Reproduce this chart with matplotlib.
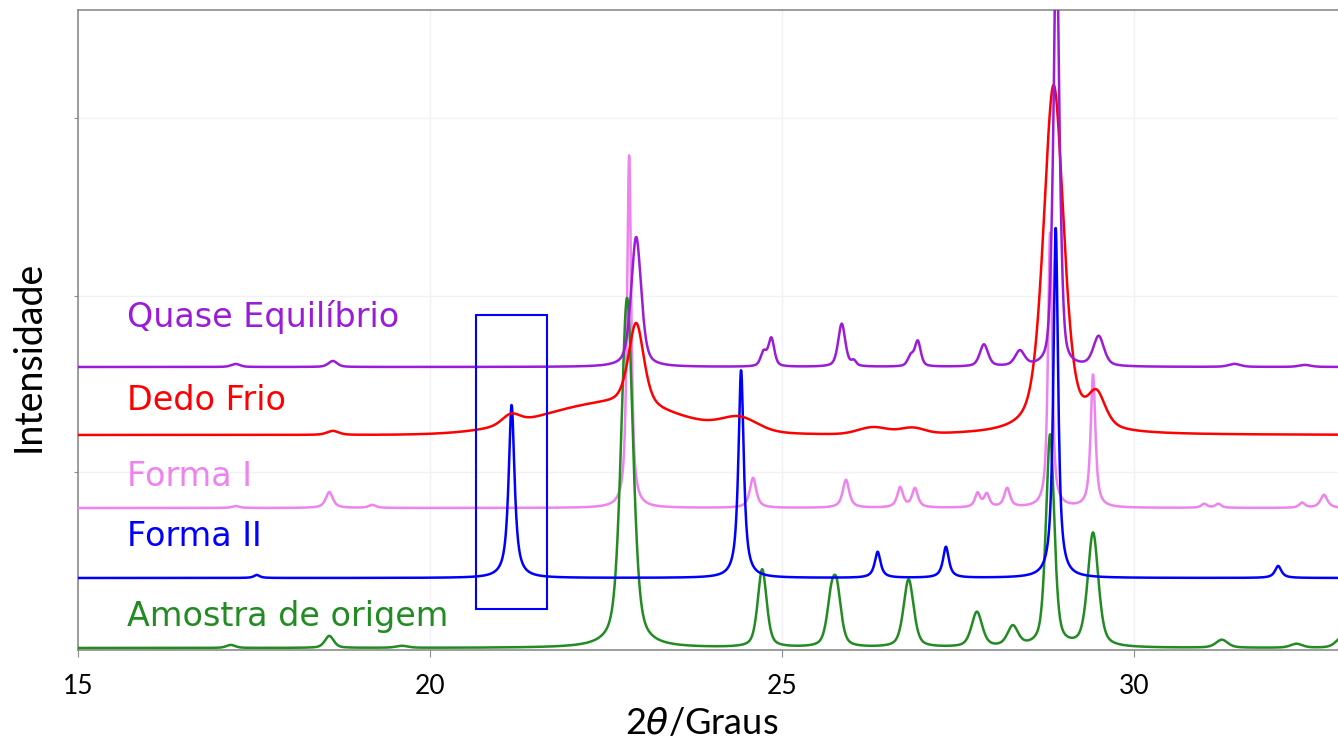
import numpy as np
import matplotlib.pyplot as plt
from matplotlib.patches import Rectangle

# ─────────────────────────────────────────────
# Picos (2θ, altura, largura a meia altura, fração lorentziana)
# alturas em unidades arbitrárias, acima da linha de base de cada difratograma
# ─────────────────────────────────────────────
quase_base = 283
quase_pos = [17.24, 18.62, 22.93, 24.74, 24.85, 25.85, 26.02, 26.83, 26.93, 27.87, 28.38, 28.84, 28.90, 28.96, 29.50, 31.43, 32.43]
quase_alt = [3, 6, 130, 14, 28, 43, 5, 10, 25, 22, 15, 60, 420, 60, 30, 3, 2]
quase_larg = [0.15, 0.15, 0.17, 0.10, 0.10, 0.12, 0.08, 0.10, 0.10, 0.14, 0.16, 0.08, 0.08, 0.08, 0.18, 0.20, 0.20]
quase_eta = [0.5] * len(quase_pos)

frio_base = 215
frio_pos = [18.62, 21.15, 22.55, 22.93, 24.40, 26.30, 26.85, 28.86, 29.47]
frio_alt = [4, 10, 31, 83, 13, 7, 6, 349, 33]
frio_larg = [0.20, 0.30, 2.30, 0.26, 0.60, 0.50, 0.40, 0.34, 0.30]
frio_eta = [0.5, 0.3, 0.0, 0.5, 0.2, 0.0, 0.0, 0.5, 0.5]

forma1_base = 142
forma1_pos = [17.24, 18.57, 19.18, 22.83, 24.59, 25.91, 26.68, 26.89, 27.78, 27.91, 28.20, 28.81, 29.42, 31.00, 31.20, 32.39, 32.70]
forma1_alt = [2, 16, 3, 353, 30, 28, 20, 19, 14, 13, 19, 275, 133, 4, 4, 5, 13]
forma1_larg = [0.12, 0.12, 0.12, 0.07, 0.11, 0.11, 0.10, 0.10, 0.09, 0.09, 0.10, 0.07, 0.08, 0.10, 0.10, 0.10, 0.12]
forma1_eta = [0.8] * len(forma1_pos)

forma2_base = 72
forma2_pos = [17.54, 21.16, 24.42, 26.36, 27.33, 28.89, 32.05]
forma2_alt = [3, 173, 208, 26, 31, 350, 12]
forma2_larg = [0.10, 0.10, 0.09, 0.10, 0.10, 0.08, 0.11]
forma2_eta = [0.9] * len(forma2_pos)

origem_base = 2
origem_pos = [17.17, 18.57, 19.60, 22.80, 24.72, 25.70, 25.78, 26.80, 27.77, 28.28, 28.81, 29.42, 31.25, 32.31, 32.95]
origem_alt = [3, 12, 2, 350, 78, 40, 50, 68, 35, 20, 212, 114, 8, 4, 10]
origem_larg = [0.15, 0.15, 0.20, 0.20, 0.15, 0.15, 0.15, 0.17, 0.18, 0.18, 0.14, 0.18, 0.20, 0.20, 0.20]
origem_eta = [0.5] * len(origem_pos)

nomes = ["Quase Equilíbrio", "Dedo Frio", "Forma I", "Forma II", "Amostra de origem"]
cores = ["#9B1BD8", "#FF0000", "#EE82EE", "#0000FF", "#228B22"]
y_nomes = [323, 240, 164, 104, 24]  # linha de base do texto


def perfil(x, base, pos, alt, larg, eta):
    """Soma de picos pseudo-Voigt sobre a linha de base."""
    y = np.full_like(x, float(base))
    for p, a, w, e in zip(pos, alt, larg, eta):
        d = (x - p) / (w / 2)
        y += a * (e / (1 + d ** 2) + (1 - e) * np.exp(-np.log(2) * d ** 2))
    return y


x = np.linspace(15, 32.9, 4000)
series = [
    (quase_base, quase_pos, quase_alt, quase_larg, quase_eta),
    (frio_base, frio_pos, frio_alt, frio_larg, frio_eta),
    (forma1_base, forma1_pos, forma1_alt, forma1_larg, forma1_eta),
    (forma2_base, forma2_pos, forma2_alt, forma2_larg, forma2_eta),
    (origem_base, origem_pos, origem_alt, origem_larg, origem_eta),
]

fig = plt.figure(figsize=(13.38, 7.42), dpi=100)
ax = fig.add_axes([78 / 1338, 92 / 742, 1 - 78 / 1338, 640 / 742])

# ordem de desenho: rosa por baixo, roxo por cima
ordem = [2, 4, 3, 1, 0]
for i in ordem:
    ax.plot(x, perfil(x, *series[i]), color=cores[i], lw=1.8, zorder=3 + ordem.index(i))

for nome, cor, yn in zip(nomes, cores, y_nomes):
    ax.text(15.69, yn, nome, color=cor, fontsize=24, ha="left", va="baseline",
            family="DejaVu Sans", zorder=10)

# destaque do pico da Forma II
ax.add_patch(Rectangle((20.65, 41), 1.01, 294, fill=False, edgecolor="#0000FF",
                       lw=1.5, zorder=9))

ax.set_xlim(15, 32.9)
ax.set_ylim(0, 640)
ax.set_xticks([15, 20, 25, 30])
ax.set_yticks([178, 354, 532])
ax.set_yticklabels([])
ax.grid(True, color="#f1f1f7", lw=1, zorder=0)

for lado in ["left", "bottom", "top"]:
    ax.spines[lado].set_color("#8c8c8c")
    ax.spines[lado].set_linewidth(1.2)
ax.spines["right"].set_visible(False)

ax.tick_params(axis="x", length=5, color="#8c8c8c", pad=12, labelsize=19)
ax.tick_params(axis="y", length=3, color="#8c8c8c")
for t in ax.get_xticklabels():
    t.set_family("Lato")

# títulos dos eixos
fig.text(702 / 1338, 1 - 724 / 742, r"2$\theta$/Graus", fontsize=26, family="Lato",
         ha="center", va="center")
fig.text(29 / 1338, 1 - 356 / 742, "Intensidade", fontsize=27, family="Lato",
         ha="center", va="center", rotation=90)

plt.savefig("out.png", dpi=100)
